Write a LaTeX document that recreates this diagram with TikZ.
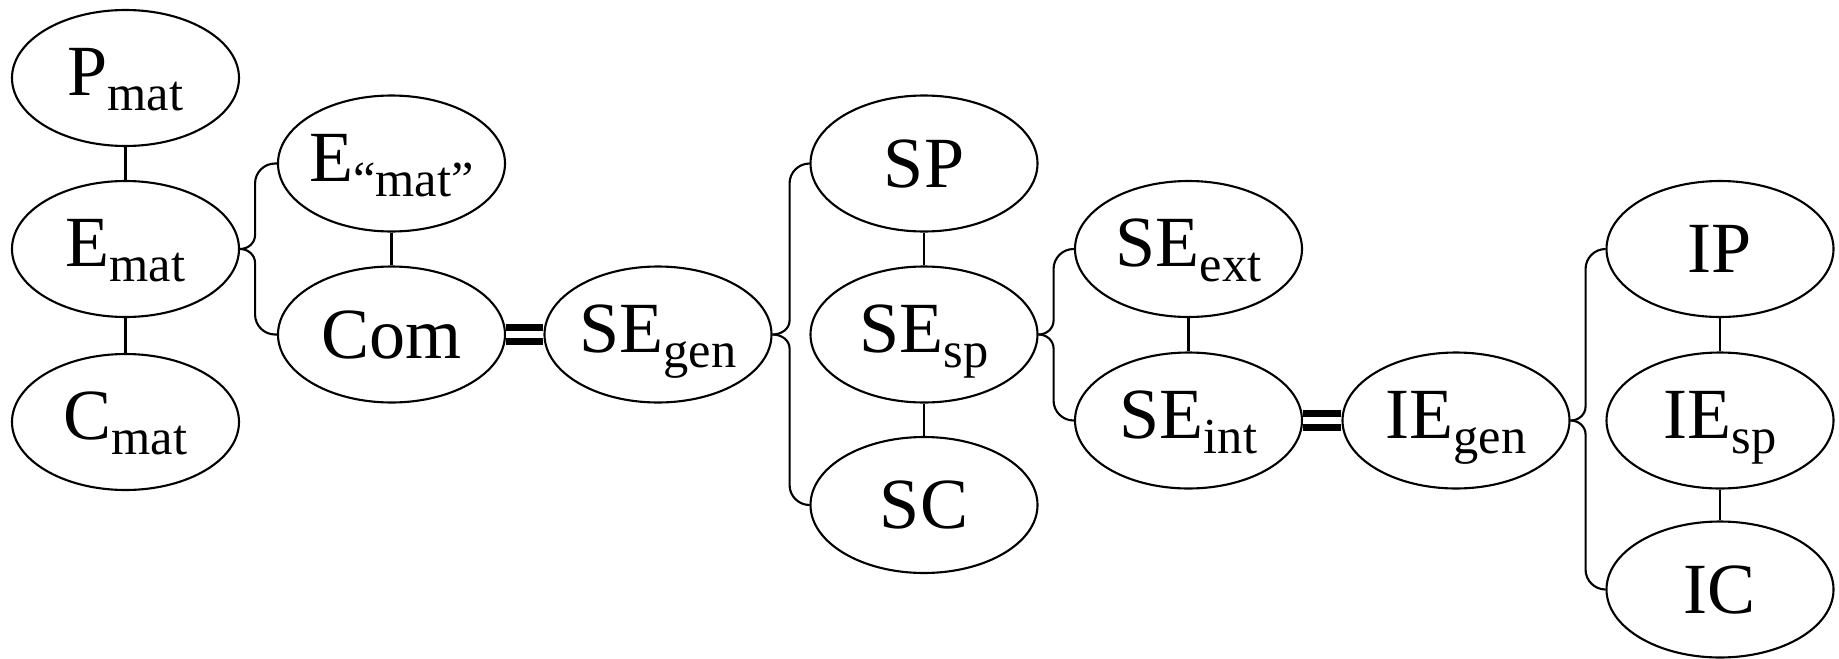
\documentclass[tikz,border=0pt]{standalone}
\usepackage{fontspec}
\setmainfont{Liberation Serif}
\usepackage{tikz}
\usetikzlibrary{shapes.geometric}

\newcommand{\lowtext}[1]{\raisebox{-0.15cm}[0pt][0.12cm]{\fontsize{14.35}{16}\selectfont #1}}

\begin{document}
\begin{tikzpicture}[line width=0.6pt,
    bubble/.style={draw, ellipse, inner xsep=-1pt, inner ysep=0pt,
        minimum width=2.27cm, minimum height=1.36cm,
        font=\fontsize{20.5}{24}\selectfont},
    eqlink/.style={double, line width=0.07cm, double distance=0.07cm}]
    \useasboundingbox (0,0) rectangle (18.39,-6.58);

    \node[bubble] (pmat) at (1.255,-0.78) {P\lowtext{mat}};
    \node[bubble] (emat) at (1.255,-2.49) {E\lowtext{mat}};
    \node[bubble] (cmat) at (1.255,-4.22) {C\lowtext{mat}};
    \node[bubble] (emq) at (3.915,-1.635) {E\lowtext{“mat”}};
    \node[bubble] (com) at (3.915,-3.345) {Com};
    \node[bubble] (segen) at (6.58,-3.345) {SE\lowtext{gen}};
    \node[bubble] (sp) at (9.24,-1.635) {SP};
    \node[bubble] (sesp) at (9.24,-3.345) {SE\lowtext{sp}};
    \node[bubble] (sc) at (9.24,-5.05) {SC};
    \node[bubble] (seext) at (11.885,-2.49) {SE\lowtext{ext}};
    \node[bubble] (seint) at (11.885,-4.205) {SE\lowtext{int}};
    \node[bubble] (iegen) at (14.56,-4.205) {IE\lowtext{gen}};
    \node[bubble] (ip) at (17.2,-2.49) {IP};
    \node[bubble] (iesp) at (17.2,-4.205) {IE\lowtext{sp}};
    \node[bubble] (ic) at (17.2,-5.895) {IC};

    \draw (pmat) -- (emat);
    \draw (emat) -- (cmat);
    \draw (emq) -- (com);
    \draw (sp) -- (sesp);
    \draw (sesp) -- (sc);
    \draw (seext) -- (seint);
    \draw (ip) -- (iesp);
    \draw (iesp) -- (ic);

    % braces
    \draw (emat.east) to[out=0,in=-90] ++(0.15,0.14) [rounded corners=2mm] |- (emq.west);
    \draw (emat.east) to[out=0,in=90] ++(0.15,-0.14) [rounded corners=2mm] |- (com.west);
    \draw (segen.east) to[out=0,in=-90] ++(0.17,0.14) [rounded corners=2mm] |- (sp.west);
    \draw (segen.east) to[out=0,in=90] ++(0.17,-0.14) [rounded corners=2mm] |- (sc.west);
    \draw (sesp.east) to[out=0,in=-90] ++(0.15,0.14) [rounded corners=2mm] |- (seext.west);
    \draw (sesp.east) to[out=0,in=90] ++(0.15,-0.14) [rounded corners=2mm] |- (seint.west);
    \draw (iegen.east) to[out=0,in=-90] ++(0.15,0.14) [rounded corners=2mm] |- (ip.west);
    \draw (iegen.east) to[out=0,in=90] ++(0.15,-0.14) [rounded corners=2mm] |- (ic.west);

    \draw[eqlink] (com) -- (segen);
    \draw[eqlink] (seint) -- (iegen);
\end{tikzpicture}
\end{document}
